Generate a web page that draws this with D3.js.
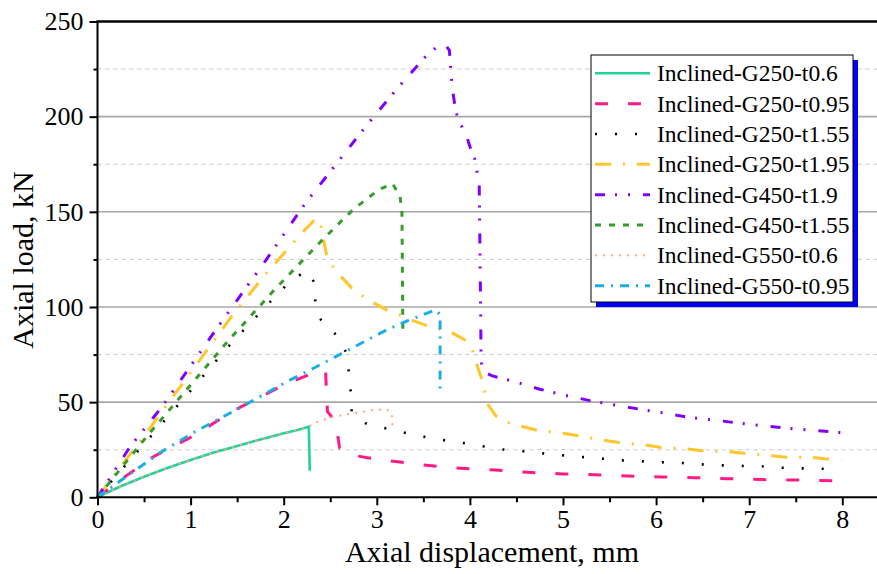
<!DOCTYPE html>
<html>
<head>
<meta charset="utf-8">
<script src="https://cdn.jsdelivr.net/npm/d3@7"></script>
<style>
  body { margin: 0; background: #fff; }
  svg { display: block; font-family: "Liberation Serif", "Times New Roman", serif; }
</style>
</head>
<body>
<svg id="chart" width="877" height="574"></svg>
<script>
// tick values
const xTicks = [0, 1, 2, 3, 4, 5, 6, 7, 8];
const xMinor = [0.5, 1.5, 2.5, 3.5, 4.5, 5.5, 6.5, 7.5];
const yTicks = [0, 50, 100, 150, 200, 250];
const yMinor = [25, 75, 125, 175, 225];

const seriesNames = [
  "Inclined-G250-t0.6", "Inclined-G250-t0.95", "Inclined-G250-t1.55", "Inclined-G250-t1.95",
  "Inclined-G450-t1.9", "Inclined-G450-t1.55", "Inclined-G550-t0.6", "Inclined-G550-t0.95"
];

// Inclined-G250-t0.6
const g250t06X = [0, 0.1, 0.25, 0.5, 0.75, 1, 1.25, 1.5, 1.75, 2, 2.15, 2.27, 2.28];
const g250t06Y = [0, 2.4, 5.8, 10.8, 15.4, 19.6, 23.5, 27, 30.4, 33.6, 35.4, 37.1, 14];

// Inclined-G250-t0.95
const g250t095X = [0, 0.3, 0.6, 1, 1.5, 2, 2.265, 2.34, 2.45, 2.46, 2.47, 2.52, 2.57, 2.6, 2.7, 2.9,
  3.2, 3.5, 3.84, 4.27, 4.62, 5, 5.34, 5.7, 6.05, 6.41, 6.77, 7.13, 7.49, 7.95];
const g250t095Y = [0, 11, 21.3, 31.5, 46.5, 59, 64.3, 66, 66.3, 55, 45, 42, 36, 26, 22.5, 20.8,
  18.8, 17, 15.4, 14.3, 13.1, 12.3, 11.9, 11.2, 10.7, 10.3, 9.8, 9.3, 9.1, 8.7];

// Inclined-G250-t1.55
const g250t155X = [0, 0.5, 1, 1.42, 1.86, 2.02, 2.19, 2.25, 2.33, 2.34, 2.4, 2.55, 2.67, 2.7, 2.72, 2.73,
  2.88, 3.08, 3.29, 3.5, 3.71, 3.93, 4.14, 4.35, 4.57, 4.78, 4.99, 5.2, 5.42, 5.63, 5.85, 6.06, 6.28,
  6.49, 6.7, 6.92, 7.13, 7.35, 7.56, 7.78, 7.99];
const g250t155Y = [0, 28, 56, 80, 103, 111, 117.4, 119, 112.8, 102.3, 93.2, 86, 76.2, 65.7, 55.4, 44.8,
  38.9, 36.4, 34, 31.9, 30.1, 28.5, 26.8, 25.2, 24.2, 23.1, 22.1, 21.2, 20.3, 19.4, 18.9, 18.4, 18,
  17.3, 16.8, 16.5, 16.3, 15.6, 15.2, 15, 14.7];

// Inclined-G250-t1.95
const g250t195X = [0, 0.56, 1.1, 1.44, 1.8, 2.21, 2.35, 2.4, 2.43, 2.46, 2.52, 2.61, 2.73, 2.84, 2.96,
  3.12, 3.25, 3.37, 3.54, 3.8, 3.96, 4.03, 4.07, 4.13, 4.16, 4.19, 4.28, 4.4, 4.54, 4.71, 4.85, 5.0,
  5.18, 5.43, 5.58, 5.88, 6.04, 6.33, 6.49, 6.78, 6.94, 7.22, 7.4, 7.67, 7.83, 7.99];
const g250t195Y = [0, 36.2, 72.2, 95, 117, 139.6, 146.7, 143, 135, 127.5, 121.8, 116.3, 110, 106, 102.3,
  98.1, 95.8, 93.2, 90.2, 86.7, 82.3, 76.9, 70.4, 61.7, 55.2, 48.9, 42.7, 39.4, 37.5, 35.4, 34.5, 33.6,
  32.2, 30.1, 28.9, 27.5, 26.3, 25.4, 24.5, 24, 23.1, 21.9, 21, 21, 20.1, 20];

// Inclined-G450-t1.9
const g450t19X = [0, 0.35, 0.7, 1.3, 1.8, 2.24, 2.53, 2.9, 3.24, 3.55, 3.67, 3.74, 3.78, 3.79, 3.81,
  3.85, 3.9, 3.96, 4.0, 4.05, 4.1, 4.115, 4.12, 4.14, 4.24, 4.5, 4.75, 5, 5.29, 5.56, 5.81, 6.1, 6.35,
  6.64, 6.9, 7.1, 7.4, 7.7, 7.98];
const g450t19Y = [0, 26.6, 48, 90, 124, 155, 173, 196, 216, 233, 237.4, 237.5, 234.8, 228, 215,
  202.4, 196, 190.5, 184.3, 178.2, 165, 100, 72, 66, 63.8, 60.5, 56.8, 53.8, 50.8, 48.5, 46.4, 44.2, 42,
  40.5, 38.9, 37.8, 36.3, 35.2, 34];

// Inclined-G450-t1.55
const g450t155X = [0, 0.53, 1.4, 1.9, 2.41, 2.75, 3.02, 3.17, 3.25, 3.27, 3.28];
const g450t155Y = [0, 32, 82, 109, 135, 151.4, 161.6, 164.8, 158, 150, 87.5];

// Inclined-G550-t0.6
const g550t06X = [0, 0.25, 0.5, 1, 1.5, 2, 2.27, 2.32, 2.48, 2.64, 2.8, 2.96, 3.11, 3.16, 3.17];
const g550t06Y = [0, 5.8, 10.8, 19.6, 27, 33.6, 37.1, 38.9, 41.5, 43.3, 44.5, 45.9, 46, 44.2, 36.3];

// Inclined-G550-t0.95
const g550t095X = [0, 0.25, 0.69, 1.05, 1.55, 2.07, 2.32, 2.66, 3.09, 3.35, 3.63, 3.68, 3.68];
const g550t095Y = [0, 8.8, 24, 34.5, 47.6, 61.7, 67.8, 76.5, 87.6, 93.2, 98.5, 96, 53.8];

const seriesX = [g250t06X, g250t095X, g250t155X, g250t195X, g450t19X, g450t155X, g550t06X, g550t095X];
const seriesY = [g250t06Y, g250t095Y, g250t155Y, g250t195Y, g450t19Y, g450t155Y, g550t06Y, g550t095Y];

// line styles per series
const styles = [
  { color: "#20d39b", dash: null, width: 2.6 },
  { color: "#ff1a86", dash: "13,20", width: 3 },
  { color: "#000000", dash: "2,18", width: 2.6 },
  { color: "#ffc52a", dash: "16,12,2,12", width: 3 },
  { color: "#8000ff", dash: "10,10,2,11,2,13", width: 3 },
  { color: "#379c2c", dash: "6,8", width: 3 },
  { color: "#ffa57c", dash: "2,6", width: 2 },
  { color: "#1aaee4", dash: "9,7,2,7", width: 3 }
];

const svg = d3.select("#chart");
const plotLeft = 97.5, plotRight = 877, plotTop = 21.5, plotBottom = 497.3;

const x = d3.scaleLinear().domain([0, 8.4]).range([plotLeft, plotLeft + 8.4 * 93.1]);
const y = d3.scaleLinear().domain([0, 250]).range([plotBottom, plotTop]);

// grid lines
svg.append("g")
  .selectAll("line")
  .data(yMinor)
  .join("line")
  .attr("x1", plotLeft).attr("x2", plotRight)
  .attr("y1", d => y(d)).attr("y2", d => y(d))
  .attr("stroke", "#c8c8c8")
  .attr("stroke-width", 1)
  .attr("stroke-dasharray", "4,4");

svg.append("g")
  .selectAll("line")
  .data(yTicks.filter(d => d > 0 && d < 250))
  .join("line")
  .attr("x1", plotLeft).attr("x2", plotRight)
  .attr("y1", d => y(d)).attr("y2", d => y(d))
  .attr("stroke", "#a8a8a8")
  .attr("stroke-width", 1.6);

// series lines
const line = d3.line().x(d => x(d[0])).y(d => y(d[1]));
const plot = svg.append("g");
seriesNames.forEach((name, i) => {
  const pts = seriesX[i].map((v, j) => [v, seriesY[i][j]]);
  plot.append("path")
    .datum(pts)
    .attr("d", line)
    .attr("fill", "none")
    .attr("stroke", styles[i].color)
    .attr("stroke-width", styles[i].width)
    .attr("stroke-dasharray", styles[i].dash)
    .attr("stroke-linejoin", "round");
});

// axes
const xAxis = svg.append("g").attr("transform", `translate(0,${plotBottom})`)
  .call(d3.axisBottom(x).tickValues(xTicks).tickSize(8).tickPadding(4).tickFormat(d3.format("d")));
svg.append("g").attr("transform", `translate(0,${plotBottom})`)
  .call(d3.axisBottom(x).tickValues(xMinor).tickSize(5).tickFormat(""))
  .select(".domain").remove();

const yAxis = svg.append("g").attr("transform", `translate(${plotLeft},0)`)
  .call(d3.axisLeft(y).tickValues(yTicks).tickSize(8).tickPadding(6).tickFormat(d3.format("d")));
svg.append("g").attr("transform", `translate(${plotLeft},0)`)
  .call(d3.axisLeft(y).tickValues(yMinor).tickSize(4).tickFormat(""))
  .select(".domain").remove();

xAxis.select(".domain").attr("d", `M${plotLeft},0H${plotRight}`);
yAxis.select(".domain").attr("d", `M0,${plotTop}V${plotBottom}`);

svg.selectAll(".domain, .tick line").attr("stroke", "#000").attr("stroke-width", 2);
svg.selectAll(".tick text")
  .attr("font-family", "Liberation Serif")
  .attr("font-size", 26)
  .attr("fill", "#000");

// top frame line
svg.append("line")
  .attr("x1", plotLeft - 1).attr("x2", plotRight)
  .attr("y1", plotTop).attr("y2", plotTop)
  .attr("stroke", "#000").attr("stroke-width", 2.4);

// axis titles
svg.append("text")
  .attr("x", 492).attr("y", 562)
  .attr("text-anchor", "middle")
  .attr("font-size", 30)
  .text("Axial displacement, mm");

svg.append("text")
  .attr("transform", "translate(33,260) rotate(-90)")
  .attr("text-anchor", "middle")
  .attr("font-size", 30)
  .text("Axial load, kN");

// legend
const legend = svg.append("g");
legend.append("rect")
  .attr("x", 596).attr("y", 60).attr("width", 262).attr("height", 247)
  .attr("fill", "#0000ff");
legend.append("rect")
  .attr("x", 591).attr("y", 55).attr("width", 262).attr("height", 247)
  .attr("fill", "#fff").attr("stroke", "#000").attr("stroke-width", 1);

const rows = legend.selectAll("g.row")
  .data(seriesNames)
  .join("g")
  .attr("class", "row")
  .attr("transform", (d, i) => `translate(0,${73.3 + i * 30.34})`);

rows.append("line")
  .attr("x1", 595).attr("x2", 650)
  .attr("stroke", (d, i) => styles[i].color)
  .attr("stroke-width", (d, i) => styles[i].width)
  .attr("stroke-dasharray", (d, i) => styles[i].dash);

rows.append("text")
  .attr("x", 657).attr("y", 8)
  .attr("font-size", 23.5)
  .text(d => d);
</script>
</body>
</html>
